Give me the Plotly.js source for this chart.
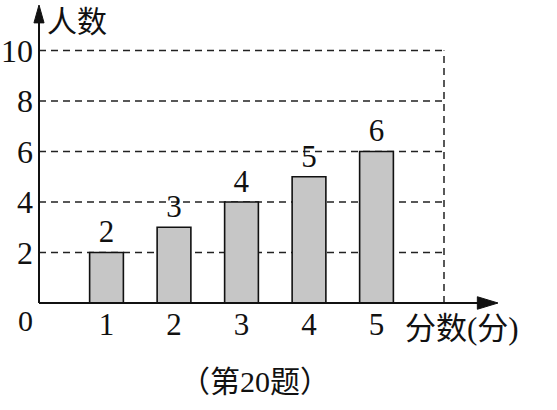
<!DOCTYPE html>
<html>
<head>
<meta charset="utf-8">
<script src="https://cdn.plot.ly/plotly-3.0.1.min.js"></script>
<style>body{margin:0;background:#fff}</style>
</head>
<body>
<div id="myDiv" style="width:557px;height:410px"></div>
<script>
var scores = [1, 2, 3, 4, 5];
var counts = [2, 3, 4, 5, 6];
var yTicks = [2, 4, 6, 8, 10];

var serif = 'Liberation Serif, Times New Roman, serif';
var cjk = 'Liberation Serif, Noto Sans CJK SC, serif';

var trace = {
    x: scores,
    y: counts,
    type: 'bar',
    width: 0.5,
    text: counts.map(String),
    textposition: 'outside',
    cliponaxis: false,
    textfont: {family: serif, size: 31, color: '#111'},
    marker: {color: '#c6c6c6', line: {color: '#111', width: 1.6}},
    hoverinfo: 'skip'
};

// dashed guide lines, they stop at x = 6
var shapes = yTicks.map(function (v) {
    return {
        type: 'line', xref: 'x', yref: 'y',
        x0: 0, x1: 6, y0: v, y1: v,
        layer: 'below',
        line: {color: '#222', width: 1.5, dash: '7px,5px'}
    };
});
shapes.push({
    type: 'line', xref: 'x', yref: 'y',
    x0: 6, x1: 6, y0: 0, y1: 10,
    layer: 'below',
    line: {color: '#222', width: 1.5, dash: '7px,5px'}
});

// axes with arrow heads (paper refs so nothing gets clipped)
shapes.push({type: 'line', xref: 'paper', yref: 'paper', x0: 0, x1: 0.97, y0: 0, y1: 0,
    line: {color: '#111', width: 2}});
shapes.push({type: 'line', xref: 'paper', yref: 'paper', x0: 0, x1: 0, y0: 0, y1: 0.96,
    line: {color: '#111', width: 2}});
shapes.push({type: 'path', xref: 'paper', yref: 'paper',
    path: 'M 0.955 0.021 L 1 0 L 0.955 -0.021 Z',
    fillcolor: '#111', line: {color: '#111', width: 1}});
shapes.push({type: 'path', xref: 'paper', yref: 'paper',
    path: 'M -0.011 0.94 L 0 1 L 0.011 0.94 Z',
    fillcolor: '#111', line: {color: '#111', width: 1}});

var annotations = [
    {text: '人数', x: 0.013, y: 0.943, xref: 'paper', yref: 'paper', xanchor: 'left', yanchor: 'middle',
     showarrow: false, font: {family: cjk, size: 30, color: '#111'}},
    {text: '分数(分)', x: 0.793, y: -0.085, xref: 'paper', yref: 'paper', xanchor: 'left', yanchor: 'middle',
     showarrow: false, font: {family: cjk, size: 31, color: '#111'}},
    {text: '0', x: -0.03, y: -0.06, xref: 'paper', yref: 'paper', xanchor: 'center', yanchor: 'middle',
     showarrow: false, font: {family: serif, size: 30, color: '#111'}},
    {text: '（第20题）', x: 0.47, y: -0.265, xref: 'paper', yref: 'paper', xanchor: 'center', yanchor: 'middle',
     showarrow: false, font: {family: cjk, size: 30, color: '#111'}}
];

var layout = {
    width: 557,
    height: 410,
    margin: {l: 39, r: 59, t: 5, b: 107},
    paper_bgcolor: '#fff',
    plot_bgcolor: '#fff',
    showlegend: false,
    xaxis: {
        range: [0, 6.8],
        tickvals: scores,
        ticktext: scores.map(String),
        showgrid: false, zeroline: false, showline: false,
        ticks: '',
        ticklabelstandoff: 0,
        tickfont: {family: serif, size: 31, color: '#111'}
    },
    yaxis: {
        range: [0, 11.8],
        tickvals: yTicks,
        ticktext: yTicks.map(String),
        showgrid: false, zeroline: false, showline: false,
        ticks: '',
        ticklabelstandoff: 5,
        tickfont: {family: serif, size: 32, color: '#111'}
    },
    shapes: shapes,
    annotations: annotations
};

Plotly.newPlot('myDiv', [trace], layout, {staticPlot: true});
</script>
</body>
</html>
